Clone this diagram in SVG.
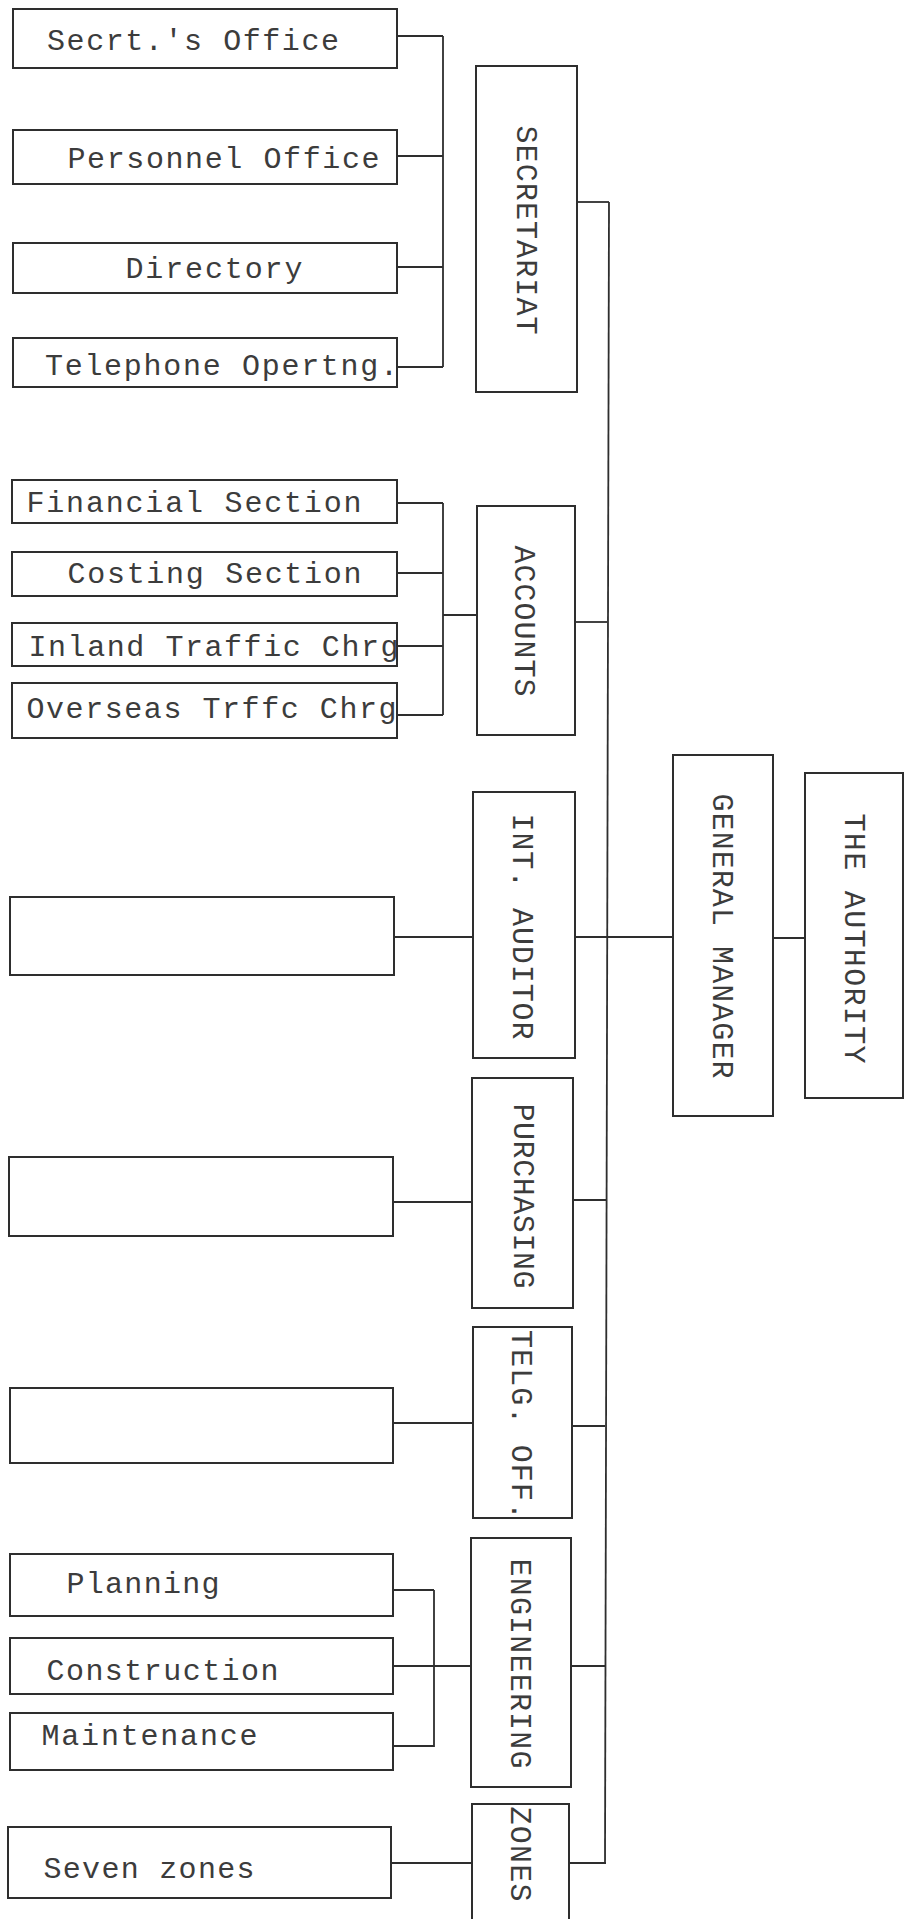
<svg xmlns="http://www.w3.org/2000/svg" width="905" height="1919" viewBox="0 0 905 1919">
<style>
.b{fill:none;stroke:#2e2e2e;stroke-width:2}
.c{fill:none;stroke:#2e2e2e;stroke-width:1.8}
.t{font-family:"Liberation Mono","DejaVu Sans Mono",monospace;font-size:30px;fill:#3c3c3c}
.v{font-family:"Liberation Mono","DejaVu Sans Mono",monospace;font-size:30px;fill:#3c3c3c;text-anchor:middle}
</style>
<rect width="905" height="1919" fill="#ffffff"/>
<g id="connectors">
<path class="c" d="M397 36H443M397 156H443M397 267H443M397 367H443M443 36V367"/>
<path class="c" d="M577 202H609"/>
<path class="c" d="M397 503H443M397 573H443M397 646H443M397 715H443M443 503V715M443 615H477"/>
<path class="c" d="M575 622H607"/>
<path class="c" d="M394 937H473M575 937H673M773 938H805"/>
<path class="c" d="M393 1202H472M573 1200H606"/>
<path class="c" d="M393 1423H473M572 1426H605"/>
<path class="c" d="M393 1590H434M393 1746H434M434 1590V1747M393 1666H471M571 1666H605"/>
<path class="c" d="M391 1863H472M569 1863H606"/>
<path class="c" d="M609 202L605 1863"/>
</g>
<g id="secrt-office"><rect class="b" x="13" y="9" width="384" height="59"/><text class="t" x="47" y="50" textLength="292" lengthAdjust="spacing">Secrt.'s Office</text></g>
<g id="personnel-office"><rect class="b" x="13" y="130" width="384" height="54"/><text class="t" x="67.5" y="168" textLength="312" lengthAdjust="spacing">Personnel Office</text></g>
<g id="directory"><rect class="b" x="13" y="243" width="384" height="50"/><text class="t" x="125.5" y="278" textLength="177" lengthAdjust="spacing">Directory</text></g>
<g id="telephone-opertng"><rect class="b" x="13" y="338" width="384" height="49"/><text class="t" x="45" y="375" textLength="353" lengthAdjust="spacing">Telephone Opertng.</text></g>
<g id="financial-section"><rect class="b" x="12" y="480" width="385" height="43"/><text class="t" x="26.5" y="512" textLength="335" lengthAdjust="spacing">Financial Section</text></g>
<g id="costing-section"><rect class="b" x="12" y="552" width="385" height="44"/><text class="t" x="67.5" y="583" textLength="294" lengthAdjust="spacing">Costing Section</text></g>
<g id="inland-traffic"><rect class="b" x="12" y="623" width="385" height="43"/><text class="t" x="28.5" y="656" textLength="370" lengthAdjust="spacing">Inland Traffic Chrg</text></g>
<g id="overseas-traffic"><rect class="b" x="12" y="683" width="385" height="55"/><text class="t" x="26.5" y="718" textLength="370" lengthAdjust="spacing">Overseas Trffc Chrg</text></g>
<g id="auditor-unit"><rect class="b" x="10" y="897" width="384" height="78"/></g>
<g id="purchasing-unit"><rect class="b" x="9" y="1157" width="384" height="79"/></g>
<g id="telg-unit"><rect class="b" x="10" y="1388" width="383" height="75"/></g>
<g id="planning"><rect class="b" x="10" y="1554" width="383" height="62"/><text class="t" x="66.5" y="1593" textLength="153" lengthAdjust="spacing">Planning</text></g>
<g id="construction"><rect class="b" x="10" y="1638" width="383" height="56"/><text class="t" x="46.5" y="1680" textLength="232" lengthAdjust="spacing">Construction</text></g>
<g id="maintenance"><rect class="b" x="10" y="1713" width="383" height="57"/><text class="t" x="41.5" y="1745" textLength="216" lengthAdjust="spacing">Maintenance</text></g>
<g id="seven-zones"><rect class="b" x="8" y="1827" width="383" height="71"/><text class="t" x="43.5" y="1878" textLength="211" lengthAdjust="spacing">Seven zones</text></g>
<g id="secretariat"><rect class="b" x="476" y="66" width="101" height="326"/><text class="v" transform="translate(527 230) rotate(90)" x="0" y="10" textLength="209" lengthAdjust="spacing">SECRETARIAT</text></g>
<g id="accounts"><rect class="b" x="477" y="506" width="98" height="229"/><text class="v" transform="translate(525 621) rotate(90)" x="0" y="10" textLength="151" lengthAdjust="spacing">ACCOUNTS</text></g>
<g id="int-auditor"><rect class="b" x="473" y="792" width="102" height="266"/><text class="v" transform="translate(523 926.5) rotate(90)" x="0" y="10" textLength="226" lengthAdjust="spacing">INT. AUDITOR</text></g>
<g id="purchasing"><rect class="b" x="472" y="1078" width="101" height="230"/><text class="v" transform="translate(524 1196) rotate(90)" x="0" y="10" textLength="185" lengthAdjust="spacing">PURCHASING</text></g>
<g id="telg-off"><rect class="b" x="473" y="1327" width="99" height="191"/><text class="v" transform="translate(522 1425) rotate(90)" x="0" y="10" textLength="190" lengthAdjust="spacing">TELG. OFF.</text></g>
<g id="engineering"><rect class="b" x="471" y="1538" width="100" height="249"/><text class="v" transform="translate(521 1663.5) rotate(90)" x="0" y="10" textLength="210" lengthAdjust="spacing">ENGINEERING</text></g>
<g id="zones"><rect class="b" x="472" y="1804" width="97" height="130"/><text class="v" transform="translate(521 1854) rotate(90)" x="0" y="10" textLength="95" lengthAdjust="spacing">ZONES</text></g>
<g id="general-manager"><rect class="b" x="673" y="755" width="100" height="361"/><text class="v" transform="translate(723 936) rotate(90)" x="0" y="10" textLength="285" lengthAdjust="spacing">GENERAL MANAGER</text></g>
<g id="the-authority"><rect class="b" x="805" y="773" width="98" height="325"/><text class="v" transform="translate(855 938.5) rotate(90)" x="0" y="10" textLength="250" lengthAdjust="spacing">THE AUTHORITY</text></g>
</svg>
